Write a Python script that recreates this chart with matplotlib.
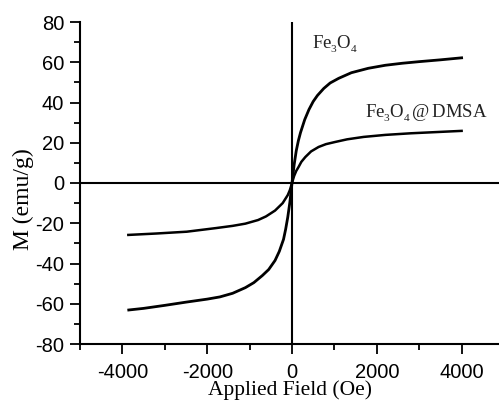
import matplotlib
matplotlib.use("Agg")
import matplotlib.pyplot as plt
from matplotlib.ticker import MultipleLocator

# Data
fe3o4_field = [-3850, -3500, -3000, -2500, -2000, -1700, -1400, -1100, -900, -700, -550, -400, -300, -200, -150, -100, -50, 0,
               50, 100, 150, 200, 300, 400, 500, 600, 750, 900, 1100, 1400, 1800, 2200, 2600, 3000, 3500, 4000]
fe3o4_m = [-63.1, -62.3, -60.8, -59.2, -57.7, -56.6, -54.8, -52.0, -49.5, -46.0, -43.0, -38.5, -34.0, -28.0, -23.0, -17.0, -9.5, 0.0,
           9.0, 16.0, 21.0, 25.0, 31.5, 36.5, 40.5, 43.5, 47.0, 49.7, 52.0, 54.8, 57.0, 58.5, 59.5, 60.3, 61.2, 62.2]

dmsa_field = [-3860, -3200, -2483, -1792, -1400, -1100, -800, -613, -400, -220, -100, -50, 0,
              50, 100, 156, 220, 314, 450, 627, 800, 1021, 1300, 1690, 2200, 2800, 3400, 4000]
dmsa_m = [-25.8, -25.1, -24.2, -22.4, -21.3, -20.2, -18.4, -16.6, -13.7, -10.0, -6.0, -3.5, 0.0,
          3.5, 6.0, 8.0, 10.5, 12.9, 15.7, 17.9, 19.3, 20.4, 21.7, 22.9, 23.9, 24.7, 25.3, 25.9]

x_ticks = [-4000, -2000, 0, 2000, 4000]
y_ticks = [-80, -60, -40, -20, 0, 20, 40, 60, 80]

plt.rcParams['mathtext.fontset'] = 'custom'
plt.rcParams['mathtext.rm'] = 'Liberation Serif'
plt.rcParams['mathtext.it'] = 'Liberation Serif:italic'
plt.rcParams['axes.unicode_minus'] = False
try:
    import matplotlib._mathtext as _mt
    _mt.FontConstantsBase.sub1 = 0.55
    _mt.FontConstantsBase.sub2 = 0.65
    _mt.SHRINK_FACTOR = 0.6
except Exception:
    pass

fig = plt.figure(figsize=(4.99, 4.0), dpi=100)
ax = fig.add_axes([80/499, 56/400, 419/499, 322/400])

ax.plot(fe3o4_field, fe3o4_m, color='black', lw=2.0, solid_joinstyle='round')
ax.plot(dmsa_field, dmsa_m, color='black', lw=1.8, solid_joinstyle='round')

ax.axhline(0, color='black', lw=1.5)
ax.axvline(0, color='black', lw=1.5)

ax.set_xlim(-5000, 4882)
ax.set_ylim(-80, 80)
ax.set_xticks(x_ticks)
ax.set_yticks(y_ticks)
ax.xaxis.set_minor_locator(MultipleLocator(1000))
ax.yaxis.set_minor_locator(MultipleLocator(10))

for s in ['top', 'right']:
    ax.spines[s].set_visible(False)
for s in ['left', 'bottom']:
    ax.spines[s].set_linewidth(1.5)

ax.tick_params(which='major', direction='out', length=7.5, width=1.3,
               labelsize=14.5, labelfontfamily='Liberation Sans')
ax.tick_params(which='minor', direction='out', length=4.5, width=1.3)
ax.tick_params(axis='x', which='major', pad=6)
ax.tick_params(axis='y', which='major', pad=4)

ax.set_xlabel('Applied Field (Oe)', fontsize=15.5, family='Liberation Serif', labelpad=-1)
ax.set_ylabel('M (emu/g)', fontsize=17, family='Liberation Serif')
ax.yaxis.set_label_coords(-0.11, 0.45)

ax.text(470, 67, r'Fe$_3$O$_4$', fontsize=13.5, family='Liberation Serif', color='#222222')
ax.text(1720, 32.8, r'Fe$_3$O$_4$$\,$@$\,$DMSA', fontsize=13.5, family='Liberation Serif', color='#222222')

fig.savefig('out.png', dpi=100)
